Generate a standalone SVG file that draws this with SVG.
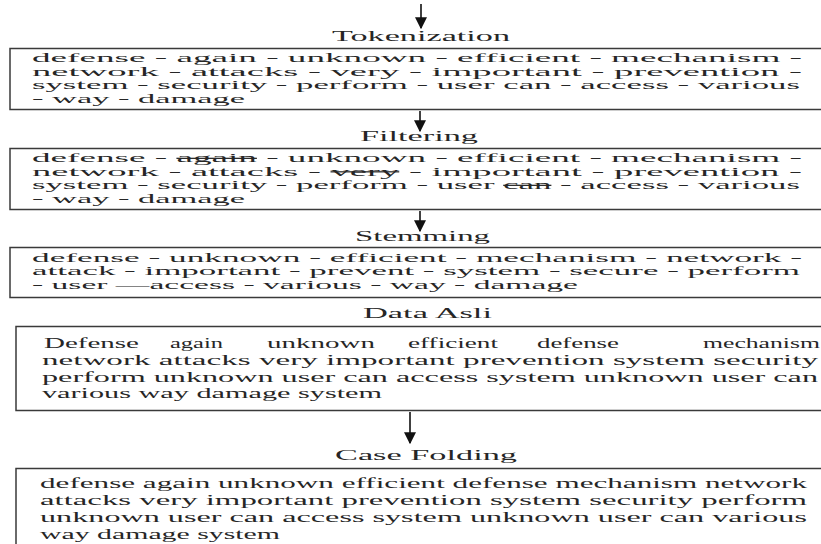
<svg xmlns="http://www.w3.org/2000/svg" width="821" height="544" viewBox="0 0 821 544">
<style>
  text { font-family: "Liberation Serif", "Times New Roman", serif; fill: #262626; }
  .lbl { font-size: 14px; }
  .t { font-size: 12.5px; }
  .b { font-size: 15px; }
  .box { fill: #fff; stroke: #3a3a3a; stroke-width: 1.5; }
  .st { text-decoration: line-through; }
  .arr { stroke: #111; stroke-width: 1.6; fill: none; }
</style>
<defs>
  <marker id="ah" viewBox="0 0 10 10" refX="9" refY="5" markerWidth="12" markerHeight="12" markerUnits="userSpaceOnUse" orient="auto">
    <path d="M0,0 L10,5 L0,10 z" fill="#111"/>
  </marker>
</defs>
<rect width="821" height="544" fill="#fff"/>

<g id="connectors">
  <line class="arr" x1="421" y1="4" x2="421" y2="28" marker-end="url(#ah)"/>
  <line class="arr" x1="420" y1="111" x2="420" y2="131" marker-end="url(#ah)"/>
  <line class="arr" x1="420" y1="211" x2="420" y2="231" marker-end="url(#ah)"/>
  <line class="arr" x1="410" y1="412" x2="410" y2="443" marker-end="url(#ah)"/>
</g>

<g id="tokenization">
  <text class="lbl" x="332" y="41" textLength="178" lengthAdjust="spacingAndGlyphs">Tokenization</text>
  <rect class="box" x="10" y="48.5" width="830" height="61"/>
  <text class="t" x="32" y="62" textLength="770" lengthAdjust="spacingAndGlyphs">defense - again - unknown - efficient - mechanism -</text>
  <text class="t" x="32" y="75.5" textLength="770" lengthAdjust="spacingAndGlyphs">network - attacks - very - important - prevention -</text>
  <text class="t" x="32" y="89" textLength="768" lengthAdjust="spacingAndGlyphs">system - security - perform - user can - access - various</text>
  <text class="t" x="32" y="102.5" textLength="213" lengthAdjust="spacingAndGlyphs">- way - damage</text>
</g>

<g id="filtering">
  <text class="lbl" x="360" y="141" textLength="118" lengthAdjust="spacingAndGlyphs">Filtering</text>
  <rect class="box" x="10" y="148.5" width="830" height="61"/>
  <text class="t" x="32" y="162" textLength="770" lengthAdjust="spacingAndGlyphs">defense - <tspan class="st">again</tspan> - unknown - efficient - mechanism -</text>
  <text class="t" x="32" y="175.5" textLength="770" lengthAdjust="spacingAndGlyphs">network - attacks - <tspan class="st">very</tspan> - important - prevention -</text>
  <text class="t" x="32" y="189" textLength="768" lengthAdjust="spacingAndGlyphs">system - security - perform - user <tspan class="st">can</tspan> - access - various</text>
  <text class="t" x="32" y="202.5" textLength="213" lengthAdjust="spacingAndGlyphs">- way - damage</text>
</g>

<g id="stemming">
  <text class="lbl" x="355" y="241" textLength="135" lengthAdjust="spacingAndGlyphs">Stemming</text>
  <rect class="box" x="10" y="247.5" width="830" height="50"/>
  <text class="t" x="32" y="261.5" textLength="770" lengthAdjust="spacingAndGlyphs">defense - unknown - efficient - mechanism - network -</text>
  <text class="t" x="32" y="275" textLength="768" lengthAdjust="spacingAndGlyphs">attack - important - prevent - system - secure - perform</text>
  <text class="t" x="32" y="288.5" textLength="546" lengthAdjust="spacingAndGlyphs">- user —access - various - way - damage</text>
</g>

<g id="data-asli">
  <text class="b" x="363" y="318" textLength="129" lengthAdjust="spacingAndGlyphs">Data Asli</text>
  <rect class="box" x="16" y="326.5" width="830" height="84"/>
  <text class="b" x="44" y="348" textLength="95" lengthAdjust="spacingAndGlyphs">Defense</text>
  <text class="b" x="170" y="348" textLength="53" lengthAdjust="spacingAndGlyphs">again</text>
  <text class="b" x="267" y="348" textLength="108" lengthAdjust="spacingAndGlyphs">unknown</text>
  <text class="b" x="408" y="348" textLength="90" lengthAdjust="spacingAndGlyphs">efficient</text>
  <text class="b" x="537" y="348" textLength="82" lengthAdjust="spacingAndGlyphs">defense</text>
  <text class="b" x="703" y="348" textLength="117" lengthAdjust="spacingAndGlyphs">mechanism</text>
  <text class="b" x="42" y="365" textLength="776" lengthAdjust="spacingAndGlyphs">network attacks very important prevention system security</text>
  <text class="b" x="42" y="382" textLength="776" lengthAdjust="spacingAndGlyphs">perform unknown user can access system unknown user can</text>
  <text class="b" x="42" y="398" textLength="340" lengthAdjust="spacingAndGlyphs">various way damage system</text>
</g>

<g id="case-folding">
  <text class="b" x="335" y="460" textLength="182" lengthAdjust="spacingAndGlyphs">Case Folding</text>
  <rect class="box" x="16" y="468.5" width="830" height="90"/>
  <text class="b" x="40" y="488" textLength="767" lengthAdjust="spacingAndGlyphs">defense again unknown efficient defense mechanism network</text>
  <text class="b" x="40" y="505" textLength="767" lengthAdjust="spacingAndGlyphs">attacks very important prevention system security perform</text>
  <text class="b" x="40" y="522" textLength="767" lengthAdjust="spacingAndGlyphs">unknown user can access system unknown user can various</text>
  <text class="b" x="40" y="539" textLength="240" lengthAdjust="spacingAndGlyphs">way damage system</text>
</g>
</svg>
